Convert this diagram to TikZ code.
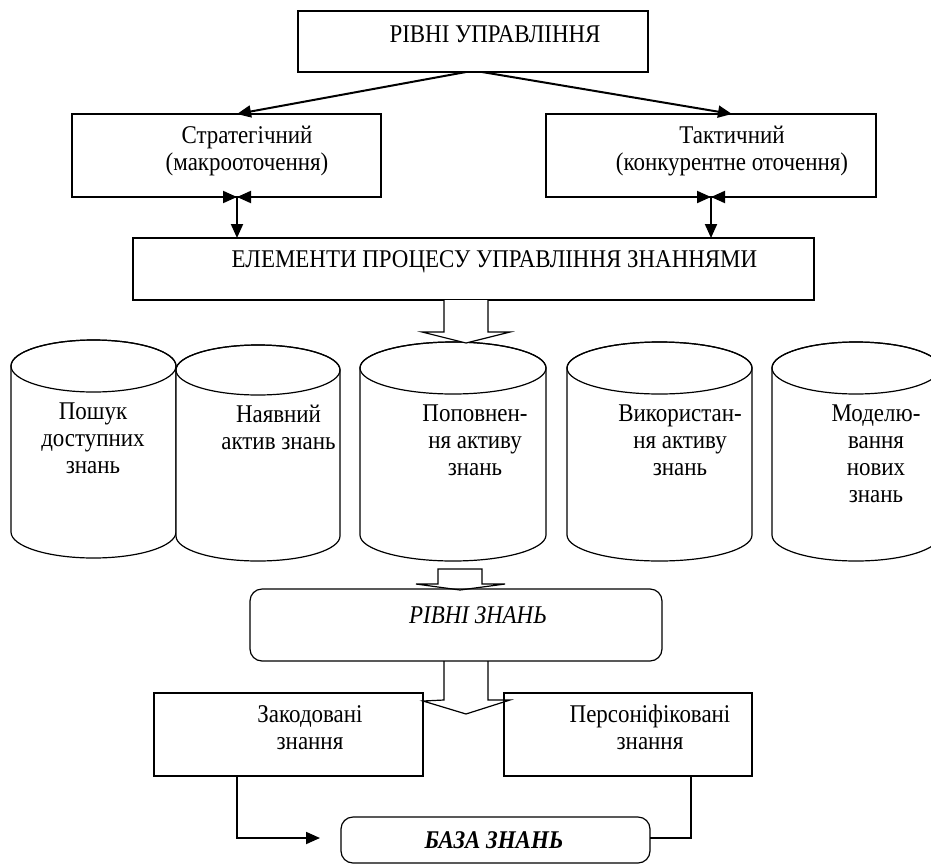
\documentclass[tikz,border=0pt]{standalone}
\usepackage{fontspec}
\setmainfont{Liberation Serif}[FakeStretch=0.9]
\usetikzlibrary{arrows.meta}
\newcommand\mycyl[5]{% cx rx ty by ry
  \draw[bx, fill=white] ({#1-#2},{-#3}) -- ({#1-#2},{-#4})
    arc[start angle=180,end angle=360,x radius=#2pt,y radius=#5pt]
    -- ({#1+#2},{-#3})
    arc[start angle=0,end angle=180,x radius=#2pt,y radius=#5pt] -- cycle;
  \draw[bx] (#1,{-#3}) ellipse[x radius=#2pt, y radius=#5pt];}
\begin{document}
\begin{tikzpicture}[x=1pt,y=1pt,
  bx/.style={draw, line width=1.2pt, inner sep=0pt, outer sep=0pt},
  rbx/.style={bx, rounded corners=12pt},
  txt/.style={inner sep=0pt, align=center, font=\fontsize{25.5}{27}\selectfont},
  arr/.style={line width=2pt, -{Triangle[length=14pt,width=12pt]}},
  thk/.style={line width=1.8pt},
  barrow/.style={line width=1.2pt, fill=white, line join=miter}]

\useasboundingbox (0,0) rectangle (931,-865);

% boxes
\node[bx, minimum width=350, minimum height=61] (top) at (473,-41.5) {};
\node[bx, minimum width=309, minimum height=83] (strat) at (226.5,-155.5) {};
\node[bx, minimum width=330, minimum height=83] (tact) at (711,-155.5) {};
\node[bx, minimum width=681, minimum height=62] (elem) at (473.5,-269) {};

\node[txt] (toptext) at (495,-34) {РІВНІ УПРАВЛІННЯ};
\node[txt] (strattext) at (247,-151) {Стратегічний\\(макрооточення)};
\node[txt] (tacttext) at (732,-151) {Тактичний\\(конкурентне оточення)};
\node[txt] (elemtext) at (494.5,-262) {ЕЛЕМЕНТИ ПРОЦЕСУ УПРАВЛІННЯ ЗНАННЯМИ};

% arrows from top
\coordinate (tl) at (466,-72);
\coordinate (tr) at (482,-72);
\coordinate (jL) at (237,-197);
\coordinate (jR) at (711,-197);
\draw[arr] (tl) -- (strat.north -| jL);
\draw[arr] (tr) -- (tact.north -| 732,0);

% junctions
\coordinate (jLa) at (215,-197);
\coordinate (jLb) at (278,-197);
\coordinate (jRa) at (690,-197);
\coordinate (jRb) at (752,-197);
\draw[arr] (jLa) -- (jL);
\draw[arr] (jLb) -- (jL);
\draw[arr] (jL) -- (jL |- elem.north);
\draw[arr] (jRa) -- (jR);
\draw[arr] (jRb) -- (jR);
\draw[arr] (jR) -- (jR |- elem.north);

% cylinders
\mycyl{93.5}{82.5}{366}{532}{26}
\mycyl{258}{82}{370}{536}{25}
\mycyl{453}{93}{368}{535}{26}
\mycyl{659.5}{92.5}{368}{535}{26}
\mycyl{856}{84}{368}{535}{26}

\node[txt] (c1text) at (93,-438) {Пошук\\доступних\\знань};
\node[txt] (c2text) at (278.5,-427) {Наявний\\актив знань};
\node[txt] (c3text) at (475,-440) {Поповнен-\\ня активу\\знань};
\node[txt] (c4text) at (680,-440.5) {Використан-\\ня активу\\знань};
\node[txt] (c5text) at (876,-454) {Моделю-\\вання\\нових\\знань};

% block arrows
\draw[barrow] (444,-300) -- (444,-332) -- (422,-332) -- (466,-343) -- (510,-332) -- (488,-332) -- (488,-300);
\draw[barrow] (438,-569) -- (438,-584) -- (416,-584) -- (460,-590) -- (505,-584) -- (482,-584) -- (482,-569) -- cycle;
\draw[barrow] (444,-661) -- (444,-700) -- (423,-701) -- (466,-714) -- (510,-700) -- (488,-700) -- (488,-661);

% lower boxes
\node[rbx, minimum width=412, minimum height=72] (lev) at (456,-625) {};
\node[bx, minimum width=269, minimum height=83] (zak) at (288.5,-734.5) {};
\node[bx, minimum width=248, minimum height=83] (pers) at (628,-734.5) {};
\node[rbx, minimum width=309, minimum height=46] (baza) at (495.5,-840) {};

\node[txt, font=\fontsize{25.5}{27}\selectfont\itshape] (levtext) at (478,-615) {РІВНІ ЗНАНЬ};
\node[txt] (zaktext) at (310,-727.5) {Закодовані\\знання};
\node[txt] (perstext) at (650,-727.5) {Персоніфіковані\\знання};
\node[txt, font=\fontsize{25.5}{27}\selectfont\bfseries\itshape] (bazatext) at (494,-840) {БАЗА ЗНАНЬ};

% bottom connectors
\coordinate (zb) at (237,-776);
\coordinate (pb) at (691,-776);
\draw[thk, -{Triangle[length=14pt,width=12pt]}] (zb) |- ([xshift=-21pt,yshift=2pt]baza.west);
\draw[thk] (pb) |- ([yshift=2pt]baza.east);
\end{tikzpicture}
\end{document}
